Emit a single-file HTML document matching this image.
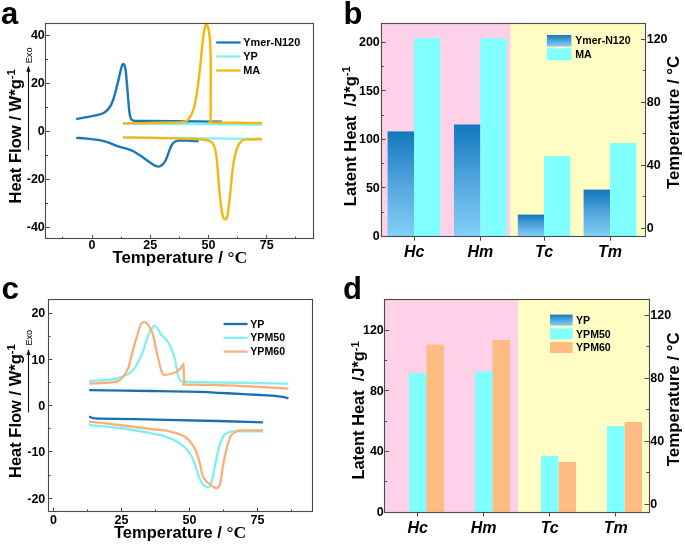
<!DOCTYPE html>
<html><head><meta charset="utf-8"><style>html,body{margin:0;padding:0;background:#fff;overflow:hidden}svg{display:block;will-change:transform}</style></head>
<body><svg width="685" height="544" viewBox="0 0 685 544">
<defs><linearGradient id="bg" x1="0" y1="0" x2="0" y2="1"><stop offset="0" stop-color="#1278bc"/><stop offset="0.5" stop-color="#52a5dd"/><stop offset="1" stop-color="#83cff8"/></linearGradient></defs>
<rect width="685" height="544" fill="#fff"/>
<text x="1.0" y="24.0" font-family="Liberation Sans, sans-serif" font-size="31" font-weight="bold" font-style="normal" text-anchor="start" >a</text>
<text x="343.5" y="23.5" font-family="Liberation Sans, sans-serif" font-size="31" font-weight="bold" font-style="normal" text-anchor="start" >b</text>
<text x="1.5" y="298.8" font-family="Liberation Sans, sans-serif" font-size="31.5" font-weight="bold" font-style="normal" text-anchor="start" >c</text>
<text x="343" y="299.1" font-family="Liberation Sans, sans-serif" font-size="31" font-weight="bold" font-style="normal" text-anchor="start" >d</text>
<path d="M123.00,123.50 L262.00,124.50" fill="none" stroke="#7ff3f5" stroke-width="2.4" stroke-linejoin="round" stroke-linecap="butt"/>
<path d="M123.00,137.50 L262.00,138.90" fill="none" stroke="#7ff3f5" stroke-width="2.4" stroke-linejoin="round" stroke-linecap="butt"/>
<path d="M76.20,119.00 C78.00,118.68 83.35,117.78 87.00,117.10 C90.65,116.42 95.33,115.58 98.10,114.90 C100.87,114.22 101.95,113.92 103.60,113.00 C105.25,112.08 106.72,110.83 108.00,109.40 C109.28,107.97 110.35,106.27 111.30,104.40 C112.25,102.53 112.88,100.78 113.70,98.20 C114.52,95.62 115.35,92.17 116.20,88.90 C117.05,85.63 118.05,81.72 118.80,78.60 C119.55,75.48 120.12,72.45 120.70,70.20 C121.28,67.95 121.82,66.13 122.30,65.10 C122.78,64.07 123.17,63.78 123.60,64.00 C124.03,64.22 124.52,65.03 124.90,66.40 C125.28,67.77 125.57,69.32 125.90,72.20 C126.23,75.08 126.55,79.63 126.90,83.70 C127.25,87.77 127.63,92.30 128.00,96.60 C128.37,100.90 128.70,106.07 129.10,109.50 C129.50,112.93 129.87,115.42 130.40,117.20 C130.93,118.98 131.33,119.58 132.30,120.20 C133.27,120.82 134.08,120.77 136.20,120.90 C138.32,121.03 137.70,120.95 145.00,121.00 C152.30,121.05 167.17,121.08 180.00,121.20 C192.83,121.32 215.00,121.62 222.00,121.70" fill="none" stroke="#1a78b8" stroke-width="2.4" stroke-linejoin="round" stroke-linecap="butt"/>
<path d="M76.20,137.90 C78.00,138.02 83.35,138.27 87.00,138.60 C90.65,138.93 94.97,139.38 98.10,139.90 C101.23,140.42 103.42,141.00 105.80,141.70 C108.18,142.40 110.20,143.27 112.40,144.10 C114.60,144.93 116.57,145.90 119.00,146.70 C121.43,147.50 124.68,148.18 127.00,148.90 C129.32,149.62 130.95,150.07 132.90,151.00 C134.85,151.93 136.77,153.23 138.70,154.50 C140.63,155.77 142.55,157.23 144.50,158.60 C146.45,159.97 148.65,161.53 150.40,162.70 C152.15,163.87 153.63,164.95 155.00,165.60 C156.37,166.25 157.43,166.70 158.60,166.60 C159.77,166.50 160.93,165.85 162.00,165.00 C163.07,164.15 164.12,162.95 165.00,161.50 C165.88,160.05 166.53,158.23 167.30,156.30 C168.07,154.37 168.82,151.85 169.60,149.90 C170.38,147.95 171.12,145.97 172.00,144.60 C172.88,143.23 173.63,142.38 174.90,141.70 C176.17,141.02 177.08,140.67 179.60,140.50 C182.12,140.33 186.85,140.57 190.00,140.70 C193.15,140.83 197.08,141.20 198.50,141.30" fill="none" stroke="#1a78b8" stroke-width="2.4" stroke-linejoin="round" stroke-linecap="butt"/>
<path d="M123.00,123.40 C129.17,123.30 150.50,123.02 160.00,122.80 C169.50,122.58 175.65,122.38 180.00,122.10 C184.35,121.82 184.42,121.93 186.10,121.10 C187.78,120.27 188.75,119.45 190.10,117.10 C191.45,114.75 193.02,111.38 194.20,107.00 C195.38,102.62 196.20,97.55 197.20,90.80 C198.20,84.05 199.30,74.60 200.20,66.50 C201.10,58.40 201.85,48.60 202.60,42.20 C203.35,35.80 204.08,30.97 204.70,28.10 C205.32,25.23 205.70,25.00 206.30,25.00 C206.90,25.00 207.67,25.23 208.30,28.10 C208.93,30.97 209.68,36.82 210.10,42.20 C210.52,47.58 210.68,57.37 210.80,60.40 L210.80,60.40 L210.60,121.50 L210.60,121.50 C210.83,121.67 207.10,122.28 212.00,122.50 C216.90,122.72 231.67,122.72 240.00,122.80 C248.33,122.88 258.33,122.97 262.00,123.00" fill="none" stroke="#f6b60f" stroke-width="2.4" stroke-linejoin="round" stroke-linecap="butt"/>
<path d="M123.30,137.40 C132.08,137.57 164.05,138.12 176.00,138.40 C187.95,138.68 190.38,138.85 195.00,139.10 C199.62,139.35 201.37,139.62 203.70,139.90 C206.03,140.18 207.53,140.27 209.00,140.80 C210.47,141.33 211.48,141.70 212.50,143.10 C213.52,144.50 214.38,146.43 215.10,149.20 C215.82,151.97 216.32,155.63 216.80,159.70 C217.28,163.77 217.57,168.37 218.00,173.60 C218.43,178.83 218.87,185.57 219.40,191.10 C219.93,196.63 220.62,202.58 221.20,206.80 C221.78,211.02 222.27,214.30 222.90,216.40 C223.53,218.50 224.27,219.40 225.00,219.40 C225.73,219.40 226.63,218.80 227.30,216.40 C227.97,214.00 228.42,209.80 229.00,205.00 C229.58,200.20 230.22,193.42 230.80,187.60 C231.38,181.78 231.83,175.33 232.50,170.10 C233.17,164.87 233.92,160.12 234.80,156.20 C235.68,152.28 236.73,149.08 237.80,146.60 C238.87,144.12 239.90,142.47 241.20,141.30 C242.50,140.13 242.17,139.95 245.60,139.60 C249.03,139.25 259.10,139.27 261.80,139.20" fill="none" stroke="#f6b60f" stroke-width="2.4" stroke-linejoin="round" stroke-linecap="butt"/>
<line x1="216.20" y1="42.50" x2="240.60" y2="42.50" stroke="#1a78b8" stroke-width="2.3"/>
<text x="243.3" y="46.1" font-family="Liberation Sans, sans-serif" font-size="10.9" font-weight="bold" font-style="normal" text-anchor="start" >Ymer-N120</text>
<line x1="216.20" y1="56.50" x2="240.60" y2="56.50" stroke="#7ff3f5" stroke-width="2.3"/>
<text x="243.3" y="60.1" font-family="Liberation Sans, sans-serif" font-size="10.9" font-weight="bold" font-style="normal" text-anchor="start" >YP</text>
<line x1="216.20" y1="70.50" x2="240.60" y2="70.50" stroke="#f6b60f" stroke-width="2.3"/>
<text x="243.3" y="74.1" font-family="Liberation Sans, sans-serif" font-size="10.9" font-weight="bold" font-style="normal" text-anchor="start" >MA</text>
<rect x="45.5" y="23.5" width="268.0" height="215.0" fill="none" stroke="#4a4a4a" stroke-width="1.1"/>
<line x1="92.50" y1="238.80" x2="92.50" y2="235.00" stroke="#4a4a4a" stroke-width="1"/>
<text x="92.05" y="248.8" font-family="Liberation Sans, sans-serif" font-size="12.5" font-weight="bold" font-style="normal" text-anchor="middle" >0</text>
<line x1="150.50" y1="238.80" x2="150.50" y2="235.00" stroke="#4a4a4a" stroke-width="1"/>
<text x="150.27" y="248.8" font-family="Liberation Sans, sans-serif" font-size="12.5" font-weight="bold" font-style="normal" text-anchor="middle" >25</text>
<line x1="208.50" y1="238.80" x2="208.50" y2="235.00" stroke="#4a4a4a" stroke-width="1"/>
<text x="208.49" y="248.8" font-family="Liberation Sans, sans-serif" font-size="12.5" font-weight="bold" font-style="normal" text-anchor="middle" >50</text>
<line x1="266.50" y1="238.80" x2="266.50" y2="235.00" stroke="#4a4a4a" stroke-width="1"/>
<text x="266.70" y="248.8" font-family="Liberation Sans, sans-serif" font-size="12.5" font-weight="bold" font-style="normal" text-anchor="middle" >75</text>
<line x1="62.50" y1="238.80" x2="62.50" y2="236.60" stroke="#4a4a4a" stroke-width="1"/>
<line x1="121.50" y1="238.80" x2="121.50" y2="236.60" stroke="#4a4a4a" stroke-width="1"/>
<line x1="179.50" y1="238.80" x2="179.50" y2="236.60" stroke="#4a4a4a" stroke-width="1"/>
<line x1="237.50" y1="238.80" x2="237.50" y2="236.60" stroke="#4a4a4a" stroke-width="1"/>
<line x1="295.50" y1="238.80" x2="295.50" y2="236.60" stroke="#4a4a4a" stroke-width="1"/>
<line x1="45.40" y1="227.50" x2="49.80" y2="227.50" stroke="#4a4a4a" stroke-width="1"/>
<text x="44.8" y="231.08" font-family="Liberation Sans, sans-serif" font-size="12.5" font-weight="bold" font-style="normal" text-anchor="end" >-40</text>
<line x1="45.40" y1="179.50" x2="49.80" y2="179.50" stroke="#4a4a4a" stroke-width="1"/>
<text x="44.8" y="183.14" font-family="Liberation Sans, sans-serif" font-size="12.5" font-weight="bold" font-style="normal" text-anchor="end" >-20</text>
<line x1="45.40" y1="131.50" x2="49.80" y2="131.50" stroke="#4a4a4a" stroke-width="1"/>
<text x="44.8" y="135.20" font-family="Liberation Sans, sans-serif" font-size="12.5" font-weight="bold" font-style="normal" text-anchor="end" >0</text>
<line x1="45.40" y1="83.50" x2="49.80" y2="83.50" stroke="#4a4a4a" stroke-width="1"/>
<text x="44.8" y="87.26" font-family="Liberation Sans, sans-serif" font-size="12.5" font-weight="bold" font-style="normal" text-anchor="end" >20</text>
<line x1="45.40" y1="35.50" x2="49.80" y2="35.50" stroke="#4a4a4a" stroke-width="1"/>
<text x="44.8" y="39.32" font-family="Liberation Sans, sans-serif" font-size="12.5" font-weight="bold" font-style="normal" text-anchor="end" >40</text>
<line x1="45.40" y1="203.50" x2="48.00" y2="203.50" stroke="#4a4a4a" stroke-width="1"/>
<line x1="45.40" y1="155.50" x2="48.00" y2="155.50" stroke="#4a4a4a" stroke-width="1"/>
<line x1="45.40" y1="107.50" x2="48.00" y2="107.50" stroke="#4a4a4a" stroke-width="1"/>
<line x1="45.40" y1="59.50" x2="48.00" y2="59.50" stroke="#4a4a4a" stroke-width="1"/>
<text transform="translate(21.3,203.6) rotate(-90)" font-family="Liberation Sans, sans-serif" font-size="16.6" font-weight="bold">Heat Flow / W*g<tspan font-size="11.29" dy="-5.98">-1</tspan></text>
<line x1="28.50" y1="150.20" x2="28.50" y2="69.60" stroke="#111" stroke-width="1.1"/><path d="M28.40,65.60 L30.50,71.70 L26.30,71.70 Z" fill="#111"/><text transform="translate(32.40,63.30) rotate(-90)" font-family="Liberation Sans, sans-serif" font-size="9.2">Exo</text>
<text x="112.4" y="262.6" font-family="Liberation Sans, sans-serif" font-size="16.9" font-weight="bold">Temperature / <tspan font-family="Liberation Serif, serif" font-size="17.6">°C</tspan></text>
<path d="M89.20,390.20 C99.33,390.33 131.53,390.72 150.00,391.00 C168.47,391.28 188.33,391.58 200.00,391.90 C211.67,392.22 213.33,392.57 220.00,392.90 C226.67,393.23 233.23,393.55 240.00,393.90 C246.77,394.25 254.47,394.63 260.60,395.00 C266.73,395.37 272.77,395.72 276.80,396.10 C280.83,396.48 282.87,396.92 284.80,397.30 C286.73,397.68 287.80,398.22 288.40,398.40" fill="none" stroke="#1670b3" stroke-width="2.3" stroke-linejoin="round" stroke-linecap="butt"/>
<path d="M89.20,416.50 C89.58,416.68 90.53,417.30 91.50,417.60 C92.47,417.90 93.58,418.13 95.00,418.30 C96.42,418.47 93.33,418.45 100.00,418.60 C106.67,418.75 115.53,418.80 135.00,419.20 C154.47,419.60 195.47,420.47 216.80,421.00 C238.13,421.53 255.30,422.17 263.00,422.40" fill="none" stroke="#1670b3" stroke-width="2.3" stroke-linejoin="round" stroke-linecap="butt"/>
<path d="M89.20,380.90 C90.93,380.82 96.05,380.60 99.60,380.40 C103.15,380.20 107.47,380.07 110.50,379.70 C113.53,379.33 115.72,378.75 117.80,378.20 C119.88,377.65 121.17,377.13 123.00,376.40 C124.83,375.67 127.22,374.78 128.80,373.80 C130.38,372.82 131.30,371.80 132.50,370.50 C133.70,369.20 134.42,368.75 136.00,366.00 C137.58,363.25 140.00,359.00 142.00,354.00 C144.00,349.00 146.33,340.33 148.00,336.00 C149.67,331.67 150.93,329.65 152.00,328.00 C153.07,326.35 153.63,326.27 154.40,326.10 C155.17,325.93 155.92,326.35 156.60,327.00 C157.28,327.65 157.77,328.70 158.50,330.00 C159.23,331.30 160.08,333.60 161.00,334.80 C161.92,336.00 162.83,336.00 164.00,337.20 C165.17,338.40 166.67,339.87 168.00,342.00 C169.33,344.13 170.83,347.00 172.00,350.00 C173.17,353.00 174.00,355.83 175.00,360.00 C176.00,364.17 177.12,371.53 178.00,375.00 C178.88,378.47 179.47,379.67 180.30,380.80 C181.13,381.93 181.38,381.60 183.00,381.80 C184.62,382.00 178.83,381.80 190.00,382.00 C201.17,382.20 233.60,382.73 250.00,383.00 C266.40,383.27 282.00,383.50 288.40,383.60" fill="none" stroke="#7ff0f2" stroke-width="2.3" stroke-linejoin="round" stroke-linecap="butt"/>
<path d="M89.00,425.00 C94.17,425.50 109.83,426.67 120.00,428.00 C130.17,429.33 142.50,431.60 150.00,433.00 C157.50,434.40 160.50,434.95 165.00,436.40 C169.50,437.85 173.62,439.82 177.00,441.70 C180.38,443.58 182.92,445.32 185.30,447.70 C187.68,450.08 189.70,453.20 191.30,456.00 C192.90,458.80 193.90,461.88 194.90,464.50 C195.90,467.12 196.50,469.32 197.30,471.70 C198.10,474.08 198.70,476.62 199.70,478.80 C200.70,480.98 202.25,483.48 203.30,484.80 C204.35,486.12 205.22,486.30 206.00,486.70 C206.78,487.10 207.28,487.38 208.00,487.20 C208.72,487.02 209.53,487.13 210.30,485.60 C211.07,484.07 211.82,481.32 212.60,478.00 C213.38,474.68 213.97,470.70 215.00,465.70 C216.03,460.70 217.70,452.33 218.80,448.00 C219.90,443.67 220.53,442.00 221.60,439.70 C222.67,437.40 223.83,435.50 225.20,434.20 C226.57,432.90 228.12,432.38 229.80,431.90 C231.48,431.42 229.77,431.37 235.30,431.30 C240.83,431.23 258.38,431.47 263.00,431.50" fill="none" stroke="#7ff0f2" stroke-width="2.3" stroke-linejoin="round" stroke-linecap="butt"/>
<path d="M89.20,383.50 C90.93,383.43 96.65,383.22 99.60,383.10 C102.55,382.98 104.47,382.97 106.90,382.80 C109.33,382.63 112.38,382.38 114.20,382.10 C116.02,381.82 116.70,381.57 117.80,381.10 C118.90,380.63 119.93,379.97 120.80,379.30 C121.67,378.63 122.33,377.88 123.00,377.10 C123.67,376.32 124.27,375.45 124.80,374.60 C125.33,373.75 125.50,373.43 126.20,372.00 C126.90,370.57 128.03,369.00 129.00,366.00 C129.97,363.00 131.17,357.25 132.00,354.00 C132.83,350.75 133.35,348.83 134.00,346.50 C134.65,344.17 135.27,342.18 135.90,340.00 C136.53,337.82 137.18,335.53 137.80,333.40 C138.42,331.27 139.00,328.87 139.60,327.20 C140.20,325.53 140.75,324.25 141.40,323.40 C142.05,322.55 142.85,322.28 143.50,322.10 C144.15,321.92 144.72,322.05 145.30,322.30 C145.88,322.55 146.38,322.90 147.00,323.60 C147.62,324.30 148.47,325.63 149.00,326.50 C149.53,327.37 149.62,327.65 150.20,328.80 C150.78,329.95 151.82,331.53 152.50,333.40 C153.18,335.27 153.72,337.40 154.30,340.00 C154.88,342.60 155.05,344.67 156.00,349.00 C156.95,353.33 158.92,361.92 160.00,366.00 C161.08,370.08 161.75,372.00 162.50,373.50 C163.25,375.00 163.25,374.92 164.50,375.00 C165.75,375.08 168.08,374.50 170.00,374.00 C171.92,373.50 174.33,372.83 176.00,372.00 C177.67,371.17 178.77,370.37 180.00,369.00 C181.23,367.63 182.83,364.67 183.40,363.80 L183.40,363.80 L184.20,384.20 L184.20,384.20 C184.50,384.27 180.57,384.43 186.00,384.60 C191.43,384.77 206.13,384.90 216.80,385.20 C227.47,385.50 238.07,385.83 250.00,386.40 C261.93,386.97 282.00,388.23 288.40,388.60" fill="none" stroke="#f7b07c" stroke-width="2.3" stroke-linejoin="round" stroke-linecap="butt"/>
<path d="M89.00,421.60 C94.17,422.17 109.83,423.77 120.00,425.00 C130.17,426.23 142.50,428.10 150.00,429.00 C157.50,429.90 160.50,429.67 165.00,430.40 C169.50,431.13 173.62,432.30 177.00,433.40 C180.38,434.50 182.92,435.40 185.30,437.00 C187.68,438.60 189.60,440.83 191.30,443.00 C193.00,445.17 194.30,447.42 195.50,450.00 C196.70,452.58 197.60,455.50 198.50,458.50 C199.40,461.50 200.20,465.05 200.90,468.00 C201.60,470.95 201.93,474.10 202.70,476.20 C203.47,478.30 204.20,479.17 205.50,480.60 C206.80,482.03 209.00,483.63 210.50,484.80 C212.00,485.97 213.50,487.03 214.50,487.60 C215.50,488.17 215.82,488.30 216.50,488.20 C217.18,488.10 217.97,487.78 218.60,487.00 C219.23,486.22 219.80,485.50 220.30,483.50 C220.80,481.50 221.08,478.32 221.60,475.00 C222.12,471.68 222.72,467.33 223.40,463.60 C224.08,459.87 224.93,455.97 225.70,452.60 C226.47,449.23 227.17,446.17 228.00,443.40 C228.83,440.63 229.63,437.83 230.70,436.00 C231.77,434.17 233.02,433.28 234.40,432.40 C235.78,431.52 237.23,431.05 239.00,430.70 C240.77,430.35 241.00,430.33 245.00,430.30 C249.00,430.27 260.00,430.47 263.00,430.50" fill="none" stroke="#f7b07c" stroke-width="2.3" stroke-linejoin="round" stroke-linecap="butt"/>
<line x1="223.60" y1="324.00" x2="247.60" y2="324.00" stroke="#1670b3" stroke-width="2.3"/>
<text x="250.3" y="327.5" font-family="Liberation Sans, sans-serif" font-size="10.6" font-weight="bold" font-style="normal" text-anchor="start" >YP</text>
<line x1="223.60" y1="337.80" x2="247.60" y2="337.80" stroke="#7ff0f2" stroke-width="2.3"/>
<text x="250.3" y="341.3" font-family="Liberation Sans, sans-serif" font-size="10.6" font-weight="bold" font-style="normal" text-anchor="start" >YPM50</text>
<line x1="223.60" y1="351.60" x2="247.60" y2="351.60" stroke="#f7b07c" stroke-width="2.3"/>
<text x="250.3" y="355.1" font-family="Liberation Sans, sans-serif" font-size="10.6" font-weight="bold" font-style="normal" text-anchor="start" >YPM60</text>
<rect x="48.5" y="299.5" width="264.0" height="212.0" fill="none" stroke="#4a4a4a" stroke-width="1.1"/>
<line x1="53.50" y1="511.60" x2="53.50" y2="507.80" stroke="#4a4a4a" stroke-width="1"/>
<text x="53.40" y="524.0" font-family="Liberation Sans, sans-serif" font-size="12.5" font-weight="bold" font-style="normal" text-anchor="middle" >0</text>
<line x1="121.50" y1="511.60" x2="121.50" y2="507.80" stroke="#4a4a4a" stroke-width="1"/>
<text x="121.40" y="524.0" font-family="Liberation Sans, sans-serif" font-size="12.5" font-weight="bold" font-style="normal" text-anchor="middle" >25</text>
<line x1="189.50" y1="511.60" x2="189.50" y2="507.80" stroke="#4a4a4a" stroke-width="1"/>
<text x="189.40" y="524.0" font-family="Liberation Sans, sans-serif" font-size="12.5" font-weight="bold" font-style="normal" text-anchor="middle" >50</text>
<line x1="257.50" y1="511.60" x2="257.50" y2="507.80" stroke="#4a4a4a" stroke-width="1"/>
<text x="257.40" y="524.0" font-family="Liberation Sans, sans-serif" font-size="12.5" font-weight="bold" font-style="normal" text-anchor="middle" >75</text>
<line x1="87.50" y1="511.60" x2="87.50" y2="509.40" stroke="#4a4a4a" stroke-width="1"/>
<line x1="155.50" y1="511.60" x2="155.50" y2="509.40" stroke="#4a4a4a" stroke-width="1"/>
<line x1="223.50" y1="511.60" x2="223.50" y2="509.40" stroke="#4a4a4a" stroke-width="1"/>
<line x1="291.50" y1="511.60" x2="291.50" y2="509.40" stroke="#4a4a4a" stroke-width="1"/>
<line x1="48.00" y1="498.50" x2="52.40" y2="498.50" stroke="#4a4a4a" stroke-width="1"/>
<text x="45.3" y="502.50" font-family="Liberation Sans, sans-serif" font-size="12.5" font-weight="bold" font-style="normal" text-anchor="end" >-20</text>
<line x1="48.00" y1="451.50" x2="52.40" y2="451.50" stroke="#4a4a4a" stroke-width="1"/>
<text x="45.3" y="456.20" font-family="Liberation Sans, sans-serif" font-size="12.5" font-weight="bold" font-style="normal" text-anchor="end" >-10</text>
<line x1="48.00" y1="405.50" x2="52.40" y2="405.50" stroke="#4a4a4a" stroke-width="1"/>
<text x="45.3" y="409.90" font-family="Liberation Sans, sans-serif" font-size="12.5" font-weight="bold" font-style="normal" text-anchor="end" >0</text>
<line x1="48.00" y1="359.50" x2="52.40" y2="359.50" stroke="#4a4a4a" stroke-width="1"/>
<text x="45.3" y="363.60" font-family="Liberation Sans, sans-serif" font-size="12.5" font-weight="bold" font-style="normal" text-anchor="end" >10</text>
<line x1="48.00" y1="313.50" x2="52.40" y2="313.50" stroke="#4a4a4a" stroke-width="1"/>
<text x="45.3" y="317.30" font-family="Liberation Sans, sans-serif" font-size="12.5" font-weight="bold" font-style="normal" text-anchor="end" >20</text>
<line x1="48.00" y1="475.50" x2="50.60" y2="475.50" stroke="#4a4a4a" stroke-width="1"/>
<line x1="48.00" y1="428.50" x2="50.60" y2="428.50" stroke="#4a4a4a" stroke-width="1"/>
<line x1="48.00" y1="382.50" x2="50.60" y2="382.50" stroke="#4a4a4a" stroke-width="1"/>
<line x1="48.00" y1="336.50" x2="50.60" y2="336.50" stroke="#4a4a4a" stroke-width="1"/>
<text transform="translate(21.0,478.0) rotate(-90)" font-family="Liberation Sans, sans-serif" font-size="16.5" font-weight="bold">Heat Flow / W*g<tspan font-size="11.22" dy="-5.94">-1</tspan></text>
<line x1="28.50" y1="412.40" x2="28.50" y2="353.00" stroke="#111" stroke-width="1.1"/><path d="M28.50,349.00 L30.60,355.10 L26.40,355.10 Z" fill="#111"/><text transform="translate(31.80,345.60) rotate(-90)" font-family="Liberation Sans, sans-serif" font-size="9.2">Exo</text>
<text x="114.0" y="538.1" font-family="Liberation Sans, sans-serif" font-size="16.5" font-weight="bold">Temperature / <tspan font-family="Liberation Serif, serif" font-size="17.6">°C</tspan></text>
<rect x="381.2" y="23.5" width="129.5" height="212.8" fill="#fdd1e8"/>
<rect x="510.7" y="23.5" width="134.7" height="212.8" fill="#fffdc3"/>
<rect x="387.6" y="131.4" width="26.40" height="104.90" fill="url(#bg)"/>
<rect x="414.0" y="38.2" width="26.40" height="198.10" fill="#80ffff"/>
<rect x="454.0" y="124.5" width="26.40" height="111.80" fill="url(#bg)"/>
<rect x="480.4" y="38.2" width="26.20" height="198.10" fill="#80ffff"/>
<rect x="517.8" y="214.6" width="26.20" height="21.70" fill="url(#bg)"/>
<rect x="544.0" y="156.2" width="26.20" height="80.10" fill="#80ffff"/>
<rect x="583.6" y="189.6" width="26.40" height="46.70" fill="url(#bg)"/>
<rect x="610.0" y="143.0" width="26.40" height="93.30" fill="#80ffff"/>
<rect x="546.9" y="35" width="24.5" height="11.5" fill="url(#bg)"/>
<rect x="546.9" y="48.3" width="24.5" height="12" fill="#80ffff"/>
<text x="575.2" y="44.4" font-family="Liberation Sans, sans-serif" font-size="10.6" font-weight="bold" font-style="normal" text-anchor="start" >Ymer-N120</text>
<text x="575.2" y="58.2" font-family="Liberation Sans, sans-serif" font-size="10.6" font-weight="bold" font-style="normal" text-anchor="start" >MA</text>
<rect x="381.5" y="23.5" width="264.0" height="213.0" fill="none" stroke="#4a4a4a" stroke-width="1.1"/>
<line x1="381.20" y1="236.50" x2="385.60" y2="236.50" stroke="#4a4a4a" stroke-width="1"/>
<text x="379.8" y="240.20" font-family="Liberation Sans, sans-serif" font-size="12.5" font-weight="bold" font-style="normal" text-anchor="end" >0</text>
<line x1="381.20" y1="187.50" x2="385.60" y2="187.50" stroke="#4a4a4a" stroke-width="1"/>
<text x="379.8" y="191.75" font-family="Liberation Sans, sans-serif" font-size="12.5" font-weight="bold" font-style="normal" text-anchor="end" >50</text>
<line x1="381.20" y1="139.50" x2="385.60" y2="139.50" stroke="#4a4a4a" stroke-width="1"/>
<text x="379.8" y="143.30" font-family="Liberation Sans, sans-serif" font-size="12.5" font-weight="bold" font-style="normal" text-anchor="end" >100</text>
<line x1="381.20" y1="90.50" x2="385.60" y2="90.50" stroke="#4a4a4a" stroke-width="1"/>
<text x="379.8" y="94.85" font-family="Liberation Sans, sans-serif" font-size="12.5" font-weight="bold" font-style="normal" text-anchor="end" >150</text>
<line x1="381.20" y1="42.50" x2="385.60" y2="42.50" stroke="#4a4a4a" stroke-width="1"/>
<text x="379.8" y="46.40" font-family="Liberation Sans, sans-serif" font-size="12.5" font-weight="bold" font-style="normal" text-anchor="end" >200</text>
<line x1="381.20" y1="212.50" x2="383.80" y2="212.50" stroke="#4a4a4a" stroke-width="1"/>
<line x1="381.20" y1="163.50" x2="383.80" y2="163.50" stroke="#4a4a4a" stroke-width="1"/>
<line x1="381.20" y1="115.50" x2="383.80" y2="115.50" stroke="#4a4a4a" stroke-width="1"/>
<line x1="381.20" y1="66.50" x2="383.80" y2="66.50" stroke="#4a4a4a" stroke-width="1"/>
<line x1="645.40" y1="228.50" x2="641.00" y2="228.50" stroke="#4a4a4a" stroke-width="1"/>
<text x="646.6999999999999" y="232.30" font-family="Liberation Sans, sans-serif" font-size="12.5" font-weight="bold" font-style="normal" text-anchor="start" >0</text>
<line x1="645.40" y1="165.50" x2="641.00" y2="165.50" stroke="#4a4a4a" stroke-width="1"/>
<text x="646.6999999999999" y="169.26" font-family="Liberation Sans, sans-serif" font-size="12.5" font-weight="bold" font-style="normal" text-anchor="start" >40</text>
<line x1="645.40" y1="102.50" x2="641.00" y2="102.50" stroke="#4a4a4a" stroke-width="1"/>
<text x="646.6999999999999" y="106.22" font-family="Liberation Sans, sans-serif" font-size="12.5" font-weight="bold" font-style="normal" text-anchor="start" >80</text>
<line x1="645.40" y1="39.50" x2="641.00" y2="39.50" stroke="#4a4a4a" stroke-width="1"/>
<text x="646.6999999999999" y="43.18" font-family="Liberation Sans, sans-serif" font-size="12.5" font-weight="bold" font-style="normal" text-anchor="start" >120</text>
<line x1="645.40" y1="196.50" x2="642.80" y2="196.50" stroke="#4a4a4a" stroke-width="1"/>
<line x1="645.40" y1="133.50" x2="642.80" y2="133.50" stroke="#4a4a4a" stroke-width="1"/>
<line x1="645.40" y1="70.50" x2="642.80" y2="70.50" stroke="#4a4a4a" stroke-width="1"/>
<line x1="414.50" y1="236.30" x2="414.50" y2="240.70" stroke="#4a4a4a" stroke-width="1"/>
<text x="414.20" y="256.8" font-family="Liberation Sans, sans-serif" font-size="16" font-weight="bold" font-style="italic" text-anchor="middle" >Hc</text>
<line x1="480.50" y1="236.30" x2="480.50" y2="240.70" stroke="#4a4a4a" stroke-width="1"/>
<text x="480.40" y="256.8" font-family="Liberation Sans, sans-serif" font-size="16" font-weight="bold" font-style="italic" text-anchor="middle" >Hm</text>
<line x1="544.50" y1="236.30" x2="544.50" y2="240.70" stroke="#4a4a4a" stroke-width="1"/>
<text x="544.00" y="256.8" font-family="Liberation Sans, sans-serif" font-size="16" font-weight="bold" font-style="italic" text-anchor="middle" >Tc</text>
<line x1="610.50" y1="236.30" x2="610.50" y2="240.70" stroke="#4a4a4a" stroke-width="1"/>
<text x="610.00" y="256.8" font-family="Liberation Sans, sans-serif" font-size="16" font-weight="bold" font-style="italic" text-anchor="middle" >Tm</text>
<text transform="translate(356.4,206.2) rotate(-90)" font-family="Liberation Sans, sans-serif" font-size="16.6" font-weight="bold">Latent Heat&#160; /J*g<tspan font-size="11.29" dy="-5.98">-1</tspan></text>
<text transform="translate(678.8,189.0) rotate(-90)" font-family="Liberation Sans, sans-serif" font-size="16.75" font-weight="bold">Temperature / °C</text>
<rect x="384.6" y="299.5" width="133.69999999999993" height="212.5" fill="#fdd1e8"/>
<rect x="518.3" y="299.5" width="130.70000000000005" height="212.5" fill="#fffdc3"/>
<rect x="409.0" y="373.4" width="17.40" height="138.60" fill="#80ffff"/>
<rect x="426.4" y="344.6" width="17.60" height="167.40" fill="#fdbd82"/>
<rect x="475.0" y="371.4" width="17.60" height="140.60" fill="#80ffff"/>
<rect x="492.6" y="340.0" width="17.40" height="172.00" fill="#fdbd82"/>
<rect x="541.0" y="456.0" width="17.60" height="56.00" fill="#80ffff"/>
<rect x="558.6" y="462.0" width="17.40" height="50.00" fill="#fdbd82"/>
<rect x="607.0" y="426.0" width="17.60" height="86.00" fill="#80ffff"/>
<rect x="624.6" y="422.0" width="17.40" height="90.00" fill="#fdbd82"/>
<rect x="550" y="314.6" width="22.6" height="11" fill="url(#bg)"/>
<rect x="550" y="328.4" width="22.6" height="10.8" fill="#80ffff"/>
<rect x="550" y="342" width="22.6" height="11" fill="#fdbd82"/>
<text x="576" y="323.7" font-family="Liberation Sans, sans-serif" font-size="10.6" font-weight="bold" font-style="normal" text-anchor="start" >YP</text>
<text x="576" y="337.5" font-family="Liberation Sans, sans-serif" font-size="10.6" font-weight="bold" font-style="normal" text-anchor="start" >YPM50</text>
<text x="576" y="351.3" font-family="Liberation Sans, sans-serif" font-size="10.6" font-weight="bold" font-style="normal" text-anchor="start" >YPM60</text>
<rect x="384.5" y="299.5" width="265.0" height="213.0" fill="none" stroke="#4a4a4a" stroke-width="1.1"/>
<line x1="384.60" y1="512.50" x2="389.00" y2="512.50" stroke="#4a4a4a" stroke-width="1"/>
<text x="383.8" y="515.90" font-family="Liberation Sans, sans-serif" font-size="12.5" font-weight="bold" font-style="normal" text-anchor="end" >0</text>
<line x1="384.60" y1="451.50" x2="389.00" y2="451.50" stroke="#4a4a4a" stroke-width="1"/>
<text x="383.8" y="455.30" font-family="Liberation Sans, sans-serif" font-size="12.5" font-weight="bold" font-style="normal" text-anchor="end" >40</text>
<line x1="384.60" y1="390.50" x2="389.00" y2="390.50" stroke="#4a4a4a" stroke-width="1"/>
<text x="383.8" y="394.70" font-family="Liberation Sans, sans-serif" font-size="12.5" font-weight="bold" font-style="normal" text-anchor="end" >80</text>
<line x1="384.60" y1="330.50" x2="389.00" y2="330.50" stroke="#4a4a4a" stroke-width="1"/>
<text x="383.8" y="334.10" font-family="Liberation Sans, sans-serif" font-size="12.5" font-weight="bold" font-style="normal" text-anchor="end" >120</text>
<line x1="384.60" y1="481.50" x2="387.20" y2="481.50" stroke="#4a4a4a" stroke-width="1"/>
<line x1="384.60" y1="421.50" x2="387.20" y2="421.50" stroke="#4a4a4a" stroke-width="1"/>
<line x1="384.60" y1="360.50" x2="387.20" y2="360.50" stroke="#4a4a4a" stroke-width="1"/>
<line x1="649.00" y1="504.50" x2="644.60" y2="504.50" stroke="#4a4a4a" stroke-width="1"/>
<text x="650.3" y="508.40" font-family="Liberation Sans, sans-serif" font-size="12.5" font-weight="bold" font-style="normal" text-anchor="start" >0</text>
<line x1="649.00" y1="441.50" x2="644.60" y2="441.50" stroke="#4a4a4a" stroke-width="1"/>
<text x="650.3" y="445.36" font-family="Liberation Sans, sans-serif" font-size="12.5" font-weight="bold" font-style="normal" text-anchor="start" >40</text>
<line x1="649.00" y1="378.50" x2="644.60" y2="378.50" stroke="#4a4a4a" stroke-width="1"/>
<text x="650.3" y="382.32" font-family="Liberation Sans, sans-serif" font-size="12.5" font-weight="bold" font-style="normal" text-anchor="start" >80</text>
<line x1="649.00" y1="315.50" x2="644.60" y2="315.50" stroke="#4a4a4a" stroke-width="1"/>
<text x="650.3" y="319.28" font-family="Liberation Sans, sans-serif" font-size="12.5" font-weight="bold" font-style="normal" text-anchor="start" >120</text>
<line x1="649.00" y1="472.50" x2="646.40" y2="472.50" stroke="#4a4a4a" stroke-width="1"/>
<line x1="649.00" y1="409.50" x2="646.40" y2="409.50" stroke="#4a4a4a" stroke-width="1"/>
<line x1="649.00" y1="346.50" x2="646.40" y2="346.50" stroke="#4a4a4a" stroke-width="1"/>
<line x1="417.50" y1="512.00" x2="417.50" y2="516.40" stroke="#4a4a4a" stroke-width="1"/>
<text x="417.70" y="532.6" font-family="Liberation Sans, sans-serif" font-size="16" font-weight="bold" font-style="italic" text-anchor="middle" >Hc</text>
<line x1="483.50" y1="512.00" x2="483.50" y2="516.40" stroke="#4a4a4a" stroke-width="1"/>
<text x="483.70" y="532.6" font-family="Liberation Sans, sans-serif" font-size="16" font-weight="bold" font-style="italic" text-anchor="middle" >Hm</text>
<line x1="549.50" y1="512.00" x2="549.50" y2="516.40" stroke="#4a4a4a" stroke-width="1"/>
<text x="549.70" y="532.6" font-family="Liberation Sans, sans-serif" font-size="16" font-weight="bold" font-style="italic" text-anchor="middle" >Tc</text>
<line x1="615.50" y1="512.00" x2="615.50" y2="516.40" stroke="#4a4a4a" stroke-width="1"/>
<text x="615.70" y="532.6" font-family="Liberation Sans, sans-serif" font-size="16" font-weight="bold" font-style="italic" text-anchor="middle" >Tm</text>
<text transform="translate(364.4,479.6) rotate(-90)" font-family="Liberation Sans, sans-serif" font-size="16.4" font-weight="bold">Latent Heat&#160; /J*g<tspan font-size="11.15" dy="-5.90">-1</tspan></text>
<text transform="translate(678.8,466.3) rotate(-90)" font-family="Liberation Sans, sans-serif" font-size="16.9" font-weight="bold">Temperature / °C</text>
</svg>
</body></html>
